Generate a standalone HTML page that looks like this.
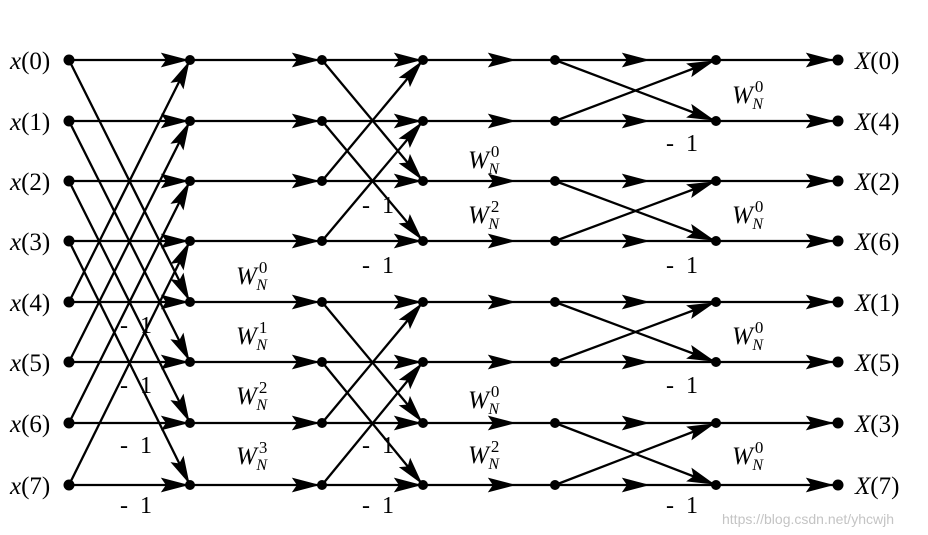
<!DOCTYPE html>
<html><head><meta charset="utf-8"><style>
html,body{margin:0;padding:0;background:#fff}
svg{display:block}
text{font-family:"Liberation Serif",serif;fill:#000}
.it{font-style:italic}
</style></head><body>
<svg id="s" width="928" height="535" viewBox="0 0 928 535" xmlns="http://www.w3.org/2000/svg">
<g id="g" stroke="#000" stroke-width="2.3" fill="#000"></g>
<g font-size="25">
<text x="10" y="69" class="it">x<tspan font-style="normal">(0)</tspan></text>
<text x="10" y="130" class="it">x<tspan font-style="normal">(1)</tspan></text>
<text x="10" y="190" class="it">x<tspan font-style="normal">(2)</tspan></text>
<text x="10" y="250" class="it">x<tspan font-style="normal">(3)</tspan></text>
<text x="10" y="311" class="it">x<tspan font-style="normal">(4)</tspan></text>
<text x="10" y="371" class="it">x<tspan font-style="normal">(5)</tspan></text>
<text x="10" y="432" class="it">x<tspan font-style="normal">(6)</tspan></text>
<text x="10" y="494" class="it">x<tspan font-style="normal">(7)</tspan></text>
<text x="855" y="69" class="it">X<tspan font-style="normal">(0)</tspan></text>
<text x="855" y="130" class="it">X<tspan font-style="normal">(4)</tspan></text>
<text x="855" y="190" class="it">X<tspan font-style="normal">(2)</tspan></text>
<text x="855" y="250" class="it">X<tspan font-style="normal">(6)</tspan></text>
<text x="855" y="311" class="it">X<tspan font-style="normal">(1)</tspan></text>
<text x="855" y="371" class="it">X<tspan font-style="normal">(5)</tspan></text>
<text x="855" y="432" class="it">X<tspan font-style="normal">(3)</tspan></text>
<text x="855" y="494" class="it">X<tspan font-style="normal">(7)</tspan></text>
</g>
<g font-size="24">
<text x="120" y="333">-&#160;&#160;1</text><text x="120" y="393">-&#160;&#160;1</text>
<text x="120" y="453">-&#160;&#160;1</text><text x="120" y="513">-&#160;&#160;1</text>
<text x="362" y="213">-&#160;&#160;1</text><text x="362" y="273">-&#160;&#160;1</text>
<text x="362" y="453">-&#160;&#160;1</text><text x="362" y="513">-&#160;&#160;1</text>
<text x="666" y="151">-&#160;&#160;1</text><text x="666" y="273">-&#160;&#160;1</text>
<text x="666" y="393">-&#160;&#160;1</text><text x="666" y="513">-&#160;&#160;1</text>
</g>
<g id="w"></g>
<text x="722" y="524" font-size="14" style="fill:#c4c4c4;font-family:'Liberation Sans',sans-serif">https://blog.csdn.net/yhcwjh</text>
</svg>
<script>
var g=document.getElementById('g'),NS='http://www.w3.org/2000/svg';
var Y=[60,121,181,241,302,362,423,485];
var X=[69,190,322,423,555,716,838];
function el(t,a){var e=document.createElementNS(NS,t);for(var k in a)e.setAttribute(k,a[k]);g.appendChild(e);return e;}
function line(x1,y1,x2,y2){el('line',{x1:x1,y1:y1,x2:x2,y2:y2});}
function arrow(x,y,dx,dy){var L=Math.hypot(dx,dy);dx/=L;dy/=L;var l=25,w=6.5;
var bx=x-dx*l,by=y-dy*l,nx=x-dx*l*0.82,ny=y-dy*l*0.82;
el('polygon',{points:[x,y,bx-dy*w,by+dx*w,nx,ny,bx+dy*w,by-dx*w].join(' '),'stroke-width':1});}
function seg(x1,y1,x2,y2,end){line(x1,y1,x2,y2);if(end){var d=Math.hypot(x2-x1,y2-y1);arrow(x2-(x2-x1)/d*end,y2-(y2-y1)/d*end,x2-x1,y2-y1);}}
for(var i=0;i<8;i++){seg(X[0],Y[i],X[1],Y[i],3);var j=i<4?i+4:i-4;seg(X[0],Y[i],X[1],Y[j],3);}
for(var i=0;i<8;i++){seg(X[1],Y[i],X[2],Y[i],0);arrow(318,Y[i],1,0);}
for(var i=0;i<8;i++){seg(X[2],Y[i],X[3],Y[i],3);var j=(i%4)<2?i+2:i-2;seg(X[2],Y[i],X[3],Y[j],3);}
for(var i=0;i<8;i++){seg(X[3],Y[i],X[4],Y[i],0);arrow(514,Y[i],1,0);}
for(var i=0;i<8;i++){seg(X[4],Y[i],X[5],Y[i],0);arrow(648,Y[i],1,0);var j=i%2==0?i+1:i-1;seg(X[4],Y[i],X[5],Y[j],3);}
for(var i=0;i<8;i++){seg(X[5],Y[i],X[6],Y[i],0);arrow(832,Y[i],1,0);}
for(var c=0;c<7;c++)for(var i=0;i<8;i++){el('circle',{cx:X[c],cy:Y[i],r:(c==0||c==6)?5.5:5,stroke:'none'});}
var w=document.getElementById('w');
function W(x,y,p){var t=document.createElementNS(NS,'text');t.setAttribute('x',x);t.setAttribute('y',y);
t.innerHTML='<tspan font-style="italic" font-size="25">W</tspan><tspan font-size="17" dx="2" dy="-11">'+p+'</tspan><tspan font-style="italic" font-size="16" dx="-11" dy="17">N</tspan>';w.appendChild(t);}
W(236,284,0);W(236,344,1);W(236,404,2);W(236,464,3);
W(468,168,0);W(468,223,2);W(468,408,0);W(468,463,2);
W(732,103,0);W(732,223,0);W(732,344,0);W(732,464,0);
</script>
</body></html>
